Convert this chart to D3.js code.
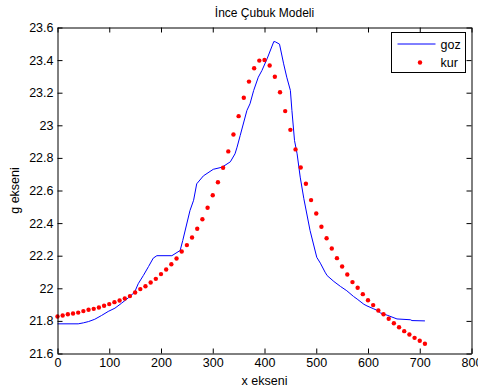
<!DOCTYPE html>
<html>
<head>
<meta charset="utf-8">
<script src="https://cdn.jsdelivr.net/npm/d3@7"></script>
<style>
  body { margin: 0; background: #fff; }
  text { font-family: "Liberation Sans", Arial, sans-serif; fill: #000; }
</style>
</head>
<body>
<svg id="chart" width="478" height="390"></svg>
<script>
// ------------------- data ---------------------------------------------
var kurX = d3.range(0, 720, 10);
var kurY = [21.827, 21.833, 21.841, 21.845, 21.851, 21.860, 21.868, 21.874, 21.882, 21.893,
            21.903, 21.915, 21.925, 21.937, 21.952, 21.974, 21.995, 22.013, 22.036, 22.058,
            22.087, 22.115, 22.148, 22.183, 22.226, 22.265, 22.312, 22.365, 22.424, 22.494,
            22.571, 22.651, 22.740, 22.840, 22.944, 23.056, 23.169, 23.268, 23.350, 23.397,
            23.401, 23.367, 23.298, 23.203, 23.087, 22.972, 22.852, 22.741, 22.641, 22.541,
            22.459, 22.378, 22.307, 22.244, 22.185, 22.134, 22.085, 22.038, 22.003, 21.964,
            21.927, 21.897, 21.864, 21.841, 21.813, 21.786, 21.761, 21.737, 21.717, 21.696,
            21.678, 21.660];

var gozX = [0, 40, 50, 60, 72, 85, 98, 111, 124, 137, 149, 156, 166, 176, 185, 192, 221, 237,
            242, 256, 263, 269, 282, 301, 318, 334, 343, 347, 353, 366, 372, 379, 388, 395, 405,
            418, 421, 429, 437, 443, 450, 453, 458, 463, 469, 476, 488, 501, 508, 517, 521, 534,
            547, 559, 572, 579, 592, 598, 611, 618, 624, 637, 656, 682, 685, 710];
var gozY = [21.782, 21.782, 21.788, 21.796, 21.810, 21.833, 21.858, 21.878, 21.909, 21.942,
            21.976, 22.028, 22.079, 22.134, 22.185, 22.200, 22.200, 22.232, 22.293, 22.477,
            22.540, 22.641, 22.690, 22.730, 22.743, 22.776, 22.825, 22.866, 22.937, 23.091,
            23.132, 23.213, 23.295, 23.336, 23.408, 23.514, 23.512, 23.498, 23.377, 23.295,
            23.214, 23.090, 22.907, 22.825, 22.682, 22.550, 22.355, 22.190, 22.154, 22.099,
            22.078, 22.042, 22.011, 21.985, 21.950, 21.934, 21.902, 21.892, 21.874, 21.864,
            21.849, 21.835, 21.812, 21.807, 21.802, 21.800];

var xTicks = [0, 100, 200, 300, 400, 500, 600, 700, 800];
var yTicks = [21.6, 21.8, 22, 22.2, 22.4, 22.6, 22.8, 23, 23.2, 23.4, 23.6];

var titleText = "İnce Çubuk Modeli";
var xLabel = "x ekseni";
var yLabel = "g ekseni";
var legendNames = ["goz", "kur"];

// ------------------- scales ------------------------
var plotL = 57.5, plotR = 471.5, plotT = 27.5, plotB = 353.5;

var x = d3.scaleLinear().domain([0, 800]).range([plotL, plotR]);
var y = d3.scaleLinear().domain([21.6, 23.6]).range([plotB, plotT]);

var svg = d3.select("#chart");

svg.append("rect")
    .attr("x", plotL).attr("y", plotT)
    .attr("width", plotR - plotL).attr("height", plotB - plotT)
    .attr("fill", "#fff");

// ------------------- data marks ------------------------
var gozLine = d3.line()
    .x(function(d, i) { return x(gozX[i]); })
    .y(function(d) { return y(d); });

svg.append("path")
    .datum(gozY)
    .attr("d", gozLine)
    .attr("fill", "none")
    .attr("stroke", "#0000ff")
    .attr("stroke-width", 1);

svg.selectAll(".kur")
    .data(kurY)
  .enter().append("circle")
    .attr("class", "kur")
    .attr("cx", function(d, i) { return x(kurX[i]); })
    .attr("cy", function(d) { return y(d); })
    .attr("r", 2.2)
    .attr("fill", "#ff0000");

// ------------------- axes (ticks inward, box on) ------------------------
function styleAxis(g) {
  g.selectAll("path, line").attr("stroke", "#000");
  g.selectAll("text")
    .style("font-family", "'Liberation Sans', Arial, sans-serif")
    .style("font-size", "12.5px")
    .attr("fill", "#000");
}

svg.append("g")
    .attr("transform", "translate(0," + plotB + ")")
    .call(d3.axisBottom(x).tickValues(xTicks).tickSizeInner(-5).tickSizeOuter(0).tickPadding(5))
    .call(styleAxis);

svg.append("g")
    .attr("transform", "translate(0," + plotT + ")")
    .call(d3.axisTop(x).tickValues(xTicks).tickSizeInner(-5).tickSizeOuter(0).tickFormat(""))
    .call(styleAxis);

svg.append("g")
    .attr("transform", "translate(" + plotL + ",0)")
    .call(d3.axisLeft(y).tickValues(yTicks).tickSizeInner(-5).tickSizeOuter(0).tickPadding(4)
      .tickFormat(d3.format("~g")))
    .call(styleAxis);

svg.append("g")
    .attr("transform", "translate(" + plotR + ",0)")
    .call(d3.axisRight(y).tickValues(yTicks).tickSizeInner(-5).tickSizeOuter(0).tickFormat(""))
    .call(styleAxis);

// ------------------- titles ------------------------
svg.append("text")
    .attr("x", (plotL + plotR) / 2).attr("y", 17)
    .attr("text-anchor", "middle")
    .style("font-size", "12px")
    .text(titleText);

svg.append("text")
    .attr("x", (plotL + plotR) / 2).attr("y", 385)
    .attr("text-anchor", "middle")
    .style("font-size", "12.5px")
    .text(xLabel);

svg.append("text")
    .attr("transform", "translate(19," + (plotT + plotB) / 2 + ") rotate(-90)")
    .attr("text-anchor", "middle")
    .style("font-size", "12.5px")
    .text(yLabel);

// ------------------- legend ------------------------
var legend = svg.append("g").attr("transform", "translate(391.5,32.5)");

legend.append("rect")
    .attr("width", 74).attr("height", 40)
    .attr("fill", "#fff")
    .attr("stroke", "#000");

legend.append("line")
    .attr("x1", 6).attr("x2", 44)
    .attr("y1", 11.5).attr("y2", 11.5)
    .attr("stroke", "#0000ff");

legend.append("circle")
    .attr("cx", 28.5).attr("cy", 30)
    .attr("r", 2.2)
    .attr("fill", "#ff0000");

legend.selectAll(".lab")
    .data(legendNames)
  .enter().append("text")
    .attr("class", "lab")
    .attr("x", 49)
    .attr("y", function(d, i) { return 16 + i * 18; })
    .style("font-size", "12.5px")
    .text(function(d) { return d; });
</script>
</body>
</html>
